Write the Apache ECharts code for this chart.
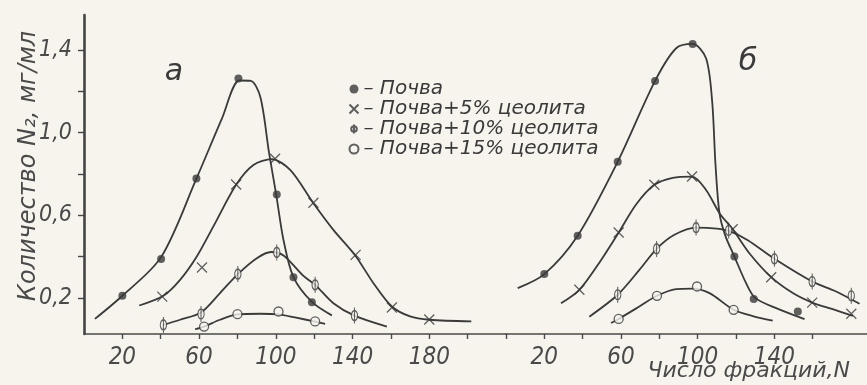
<!DOCTYPE html>
<html>
<head>
<meta charset="utf-8">
<script src="https://cdn.jsdelivr.net/npm/echarts@6/dist/echarts.min.js"></script>
<style>
  html, body { margin: 0; padding: 0; background: #f6f4ed; }
  #chart { width: 867px; height: 385px; }
</style>
</head>
<body>
<div id="chart"></div>
<script>
// Axis ticks and labels
const yTickValues = [0.2, 0.4, 0.6, 0.8, 1.0, 1.2, 1.4];
const yLabelValues = [0.2, 0.6, 1.0, 1.4];
const xTicksA = [20, 40, 60, 80, 100, 120, 140, 160, 180, 200];
const xLabelsA = [20, 60, 100, 140, 180];
const xTicksB = [0, 20, 40, 60, 80, 100, 120, 140, 160];
const xLabelsB = [20, 60, 100, 140];

const seriesNames = ['Почва', 'Почва+5% цеолита', 'Почва+10% цеолита', 'Почва+15% цеолита'];

// Panel а — measured points [N, mg/ml]
const aSoilPts = [[20, 0.21], [40.2, 0.388], [58.6, 0.778], [80.5, 1.262], [100.5, 0.70], [109.2, 0.30], [118.8, 0.179]];
const aZ5Pts = [[40.8, 0.206], [61.5, 0.347], [79.3, 0.749], [99.6, 0.873], [119.6, 0.66], [141.6, 0.408], [160.5, 0.153], [180, 0.095]];
const aZ10Pts = [[41.4, 0.069], [61, 0.122], [80.2, 0.315], [100.5, 0.42], [120.5, 0.263], [141, 0.114]];
const aZ15Pts = [[62.6, 0.061], [80, 0.121], [101.4, 0.134], [120.5, 0.086]];

// Panel а — fitted curves
const aSoilCurve = [[5.7, 0.098], [20, 0.21], [40.2, 0.397], [58.6, 0.777], [72, 1.07], [81, 1.252], [87, 1.25], [92, 1.17], [96.5, 0.9], [100.2, 0.70], [104, 0.48], [109.2, 0.30], [118.8, 0.18], [129.2, 0.115]];
const aZ5Curve = [[28.8, 0.163], [41.4, 0.21], [50.1, 0.287], [58.8, 0.40], [67.4, 0.545], [79.3, 0.747], [88.3, 0.843], [97.9, 0.871], [107.5, 0.819], [119.6, 0.658], [130, 0.529], [141.4, 0.405], [150.9, 0.271], [160.5, 0.158], [170, 0.11], [180.1, 0.094], [201.9, 0.086]];
const aZ10Curve = [[41.4, 0.069], [50.1, 0.094], [61, 0.129], [70.9, 0.223], [80.2, 0.315], [90.1, 0.392], [97.5, 0.422], [104, 0.405], [114.4, 0.306], [120.5, 0.263], [130, 0.174], [141, 0.114], [157.9, 0.061]];
const aZ15Curve = [[57.9, 0.048], [62.6, 0.061], [70.9, 0.094], [80, 0.12], [91.8, 0.123], [101.4, 0.12], [110, 0.105], [120.5, 0.085], [125.7, 0.074]];

// Panel б — measured points
const bSoilPts = [[20, 0.315], [37.4, 0.501], [58.3, 0.859], [77.8, 1.25], [97.4, 1.429], [119.2, 0.40], [129.3, 0.194], [152.3, 0.134]];
const bZ5Pts = [[38.3, 0.239], [58.8, 0.516], [77.4, 0.747], [97.1, 0.787], [118.3, 0.532], [138.4, 0.30], [159.8, 0.177], [180.2, 0.123]];
const bZ10Pts = [[58.3, 0.215], [78.6, 0.437], [99.2, 0.54], [116.2, 0.526], [140.1, 0.389], [159.8, 0.279], [180.2, 0.21]];
const bZ15Pts = [[58.8, 0.098], [78.8, 0.21], [99.7, 0.255], [118.8, 0.142]];

// Panel б — fitted curves
const bSoilCurve = [[6.1, 0.247], [20, 0.315], [37.4, 0.501], [58.3, 0.859], [77.8, 1.25], [88.8, 1.408], [97.4, 1.429], [104.4, 1.36], [107.6, 1.15], [109.3, 0.85], [111.4, 0.61], [114.5, 0.5], [119.2, 0.40], [125.3, 0.271], [130, 0.2], [141, 0.15], [155.8, 0.097]];
const bZ5Curve = [[28.7, 0.174], [38.3, 0.239], [48.7, 0.37], [58.8, 0.516], [67.9, 0.652], [77.4, 0.747], [87, 0.781], [97.1, 0.787], [104.4, 0.722], [111.4, 0.61], [118.3, 0.532], [127, 0.416], [138.4, 0.30], [149.7, 0.223], [159.8, 0.177], [170.5, 0.145], [181, 0.113]];
const bZ10Curve = [[43.5, 0.109], [58.3, 0.215], [69.6, 0.335], [78.6, 0.437], [87.9, 0.505], [99.2, 0.54], [110, 0.535], [117, 0.522], [126.2, 0.479], [140.1, 0.389], [159.8, 0.279], [172, 0.232], [184.5, 0.171]];
const bZ15Curve = [[54.8, 0.078], [58.8, 0.098], [69.6, 0.158], [78.8, 0.21], [88.8, 0.242], [97, 0.245], [106.2, 0.223], [118.8, 0.142], [128.8, 0.112], [139.2, 0.09]];

const INK = '#3a3a3a';
const PAPER = '#f6f4ed';
const NUM_FONT = 'DejaVu Sans Condensed';
const TEXT_FONT = 'DejaVu Sans';

const markerStyles = [
  { symbol: 'circle', symbolSize: 8, itemStyle: { color: INK, borderWidth: 0 } },
  { symbol: 'path://M0,0L10,10M0,10L10,0', symbolSize: 10, itemStyle: { color: 'none', borderColor: INK, borderWidth: 1.3 } },
  { symbol: 'path://M5,0L5,16M5,3A5,5 0 1 1 5,13A5,5 0 1 1 5,3Z', symbolSize: [10, 16], itemStyle: { color: PAPER, borderColor: INK, borderWidth: 1.3 } },
  { symbol: 'circle', symbolSize: 9, itemStyle: { color: PAPER, borderColor: INK, borderWidth: 1.3 } }
];

const panels = [
  { pts: [aSoilPts, aZ5Pts, aZ10Pts, aZ15Pts], curves: [aSoilCurve, aZ5Curve, aZ10Curve, aZ15Curve] },
  { pts: [bSoilPts, bZ5Pts, bZ10Pts, bZ15Pts], curves: [bSoilCurve, bZ5Curve, bZ10Curve, bZ15Curve] }
];

const series = [];
panels.forEach((panel, p) => {
  panel.curves.forEach((curve) => {
    series.push({
      type: 'line', xAxisIndex: p, yAxisIndex: p, data: curve,
      smooth: 0.3, symbol: 'none', silent: true, clip: false,
      lineStyle: { color: INK, width: 1.8 }, z: 2
    });
  });
  panel.pts.forEach((pts, i) => {
    series.push(Object.assign({
      type: 'scatter', name: seriesNames[i], xAxisIndex: p, yAxisIndex: p, data: pts,
      symbolKeepAspect: true, clip: false, z: 3
    }, markerStyles[i]));
  });
});

const fmtComma = v => Number(v).toFixed(1).replace('.', ',');

function xAxisFor(gridIndex, max, ticks, labels) {
  return {
    type: 'value', gridIndex: gridIndex, min: 0, max: max,
    axisLine: { show: true, lineStyle: { color: '#4a4a4a', width: 1.6 } },
    axisTick: { show: true, customValues: ticks, length: 5, lineStyle: { color: '#4a4a4a', width: 1.4 } },
    axisLabel: {
      customValues: labels, margin: 12, color: '#4a4a4a',
      fontFamily: NUM_FONT, fontStyle: 'italic', fontSize: 24, formatter: v => String(v)
    },
    splitLine: { show: false }
  };
}

const chart = echarts.init(document.getElementById('chart'), null, { renderer: 'canvas' });
chart.setOption({
  backgroundColor: PAPER,
  animation: false,
  grid: [
    { left: 84, top: 15, width: 422, bottom: 51 },
    { left: 506, top: 15, width: 361, bottom: 51 }
  ],
  xAxis: [
    xAxisFor(0, 220, xTicksA, xLabelsA),
    xAxisFor(1, 188.4, xTicksB, xLabelsB)
  ],
  yAxis: [
    {
      type: 'value', gridIndex: 0, min: 0.025, max: 1.569,
      axisLine: { show: true, lineStyle: { color: '#444', width: 2.6 } },
      axisTick: { show: true, customValues: yTickValues, length: 6, lineStyle: { color: '#444', width: 1.4 } },
      axisLabel: {
        customValues: yLabelValues, margin: 12, color: '#4a4a4a',
        fontFamily: NUM_FONT, fontStyle: 'italic', fontSize: 23, formatter: fmtComma
      },
      splitLine: { show: false }
    },
    { type: 'value', gridIndex: 1, min: 0.025, max: 1.569, show: false }
  ],
  legend: {
    orient: 'vertical', left: 342, top: 74, itemGap: 0,
    itemWidth: 9, itemHeight: 9,
    data: seriesNames,
    formatter: '– {name}',
    textStyle: { fontFamily: TEXT_FONT, fontStyle: 'italic', fontSize: 20, color: '#3a3a3a' },
    selectedMode: false
  },
  graphic: [
    {
      type: 'text', x: 29, y: 166, rotation: Math.PI / 2,
      style: { text: 'Количество N₂, мг/мл', fill: '#4a4a4a', font: 'italic 24px "DejaVu Sans"', align: 'center', verticalAlign: 'middle' }
    },
    { type: 'text', x: 174, y: 72, style: { text: 'а', fill: '#3a3a3a', font: 'italic 30px "DejaVu Sans"', align: 'center', verticalAlign: 'middle' } },
    { type: 'text', x: 748, y: 62, style: { text: 'б', fill: '#3a3a3a', font: 'italic 30px "DejaVu Sans"', align: 'center', verticalAlign: 'middle' } },
    { type: 'text', x: 850, y: 371, style: { text: 'Число фракций,N', fill: '#4a4a4a', font: 'italic 22px "DejaVu Sans"', align: 'right', verticalAlign: 'middle' } }
  ],
  series: series
});
</script>
</body>
</html>
